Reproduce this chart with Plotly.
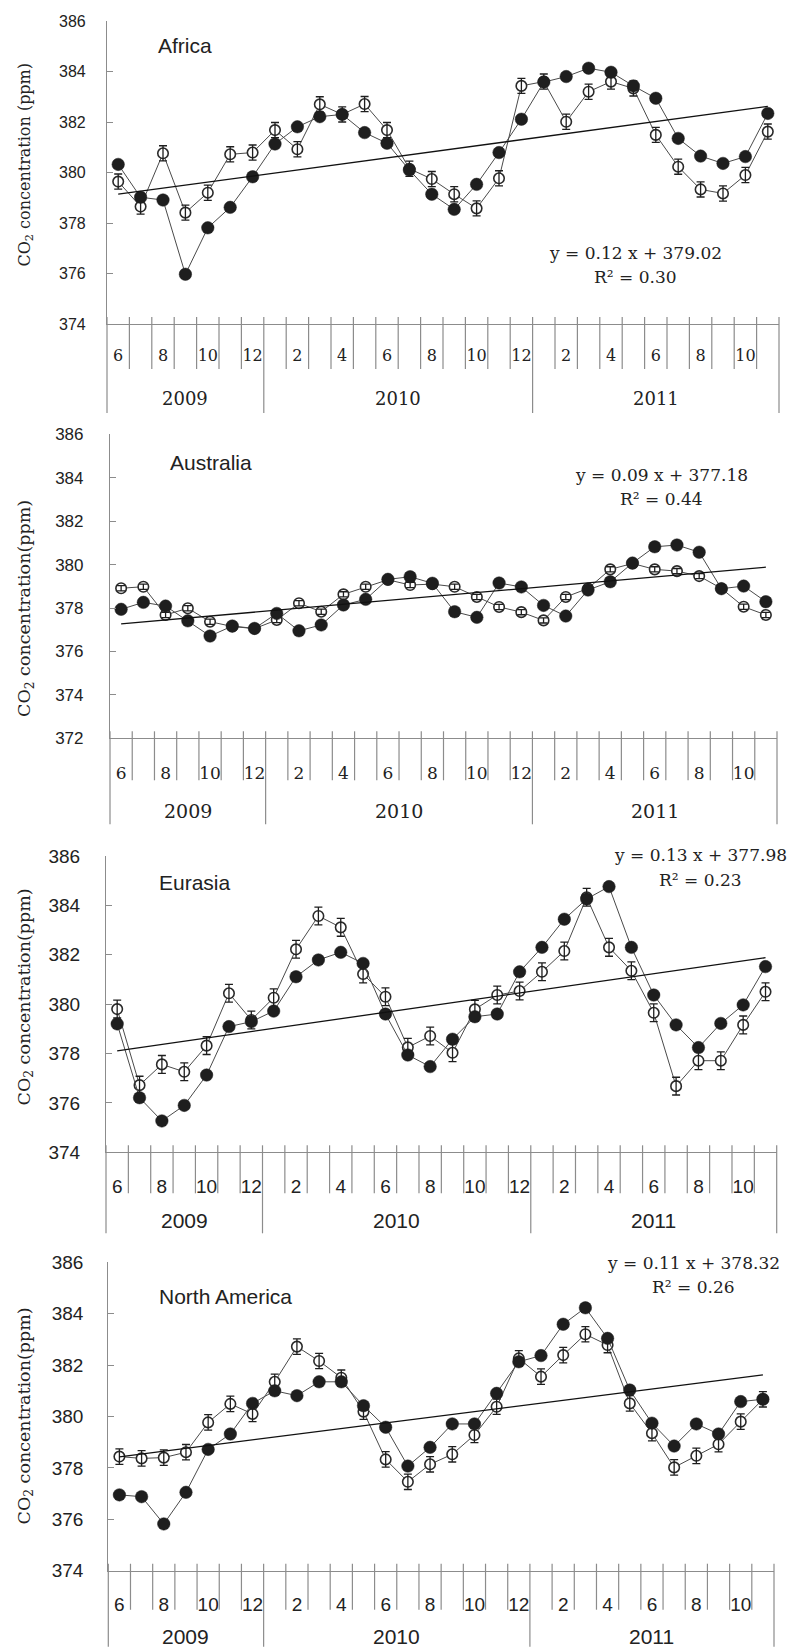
import plotly.graph_objects as go

# ---- time axis: June 2009 to November 2011 ----
months = [6, 7, 8, 9, 10, 11, 12,
          1, 2, 3, 4, 5, 6, 7, 8, 9, 10, 11, 12,
          1, 2, 3, 4, 5, 6, 7, 8, 9, 10, 11]
years = ["2009"] * 7 + ["2010"] * 12 + ["2011"] * 11
idx = list(range(1, len(months) + 1))
# only even months carry a label
label_pos = [i for i, m in zip(idx, months) if m % 2 == 0]
label_txt = [str(m) for m in months if m % 2 == 0]

# ---- CO2 concentration (ppm), solid and open series per region ----
africa_solid = [380.32, 379.02, 378.91, 375.97, 377.81, 378.62, 379.83, 381.13, 381.81, 382.21,
                382.30, 381.58, 381.16, 380.10, 379.14, 378.54, 379.53, 380.79, 382.11, 383.58,
                383.80, 384.13, 383.97, 383.43, 382.94, 381.35, 380.65, 380.36, 380.63, 382.34]
africa_open = [379.64, 378.65, 380.76, 378.41, 379.20, 380.72, 380.79, 381.68, 380.92, 382.70,
               382.30, 382.71, 381.68, 380.15, 379.74, 379.14, 378.58, 379.77, 383.43, 383.60,
               382.01, 383.20, 383.60, 383.33, 381.49, 380.23, 379.33, 379.17, 379.90, 381.62]
africa_err = [0.3] * 30

australia_solid = [377.94, 378.26, 378.09, 377.41, 376.71, 377.17, 377.06, 377.75, 376.95, 377.22,
                   378.14, 378.40, 379.32, 379.44, 379.14, 377.83, 377.57, 379.15, 378.97, 378.12,
                   377.63, 378.83, 379.21, 380.07, 380.82, 380.90, 380.57, 378.89, 379.01, 378.29]
australia_open = [378.91, 378.98, 377.68, 377.99, 377.37, 377.15, 377.05, 377.45, 378.22, 377.83,
                  378.63, 378.98, 379.30, 379.06, 379.10, 378.98, 378.51, 378.05, 377.81, 377.43,
                  378.51, 378.90, 379.78, 380.05, 379.78, 379.70, 379.47, 378.90, 378.06, 377.68]
australia_err = [0.12] * 30

eurasia_solid = [379.20, 376.21, 375.27, 375.90, 377.13, 379.09, 379.29, 379.72, 381.11, 381.79,
                 382.10, 381.65, 379.60, 377.94, 377.47, 378.58, 379.49, 379.60, 381.31, 382.30,
                 383.44, 384.26, 384.76, 382.30, 380.37, 379.16, 378.24, 379.22, 379.97, 381.52]
eurasia_open = [379.80, 376.72, 377.56, 377.26, 378.32, 380.44, 379.36, 380.26, 382.22, 383.57,
                383.11, 381.22, 380.30, 378.25, 378.71, 378.03, 379.79, 380.37, 380.53, 381.31,
                382.15, 384.33, 382.30, 381.35, 379.65, 376.68, 377.71, 377.71, 379.16, 380.50]
eurasia_err = [0.36] * 30

namerica_solid = [376.95, 376.88, 375.82, 377.05, 378.72, 379.32, 380.51, 381.00, 380.81, 381.35,
                  381.35, 380.42, 379.58, 378.07, 378.80, 379.71, 379.71, 380.90, 382.13, 382.37,
                  383.59, 384.23, 383.04, 381.03, 379.74, 378.85, 379.71, 379.32, 380.58, 380.67]
namerica_open = [378.44, 378.37, 378.40, 378.61, 379.77, 380.49, 380.10, 381.35, 382.72, 382.16,
                 381.51, 380.19, 378.33, 377.46, 378.14, 378.53, 379.28, 380.38, 382.26, 381.55,
                 382.39, 383.20, 382.78, 380.51, 379.35, 378.02, 378.47, 378.92, 379.80, 380.67]
namerica_err = [0.3] * 30

# ---- linear trends (y = slope * x + intercept) ----
region_names = ["Africa", "Australia", "Eurasia", "North America"]
trend_slope = [0.12, 0.09, 0.13, 0.11]
trend_intercept = [379.02, 377.18, 377.98, 378.32]
trend_r2 = [0.30, 0.44, 0.23, 0.26]
y_ranges = [(374, 386), (372, 386), (374, 386), (374, 386)]

solid_series = [africa_solid, australia_solid, eurasia_solid, namerica_solid]
open_series = [africa_open, australia_open, eurasia_open, namerica_open]
err_series = [africa_err, australia_err, eurasia_err, namerica_err]

W, H = 790, 1647
AXIS_GREY = "#8c8c8c"
SERIF = "DejaVu Serif"
SANS = "Liberation Sans, Arial, sans-serif"

# page layout of each panel (pixels) and typography
panels = [
    dict(left=107, right=779, top=21, bottom=324, tick_font=(SANS, 16), tick_pad=17,
         month_font=(SERIF, 16), month_pad=17, year_font=(SERIF, 18), year_off=74,
         tick_len=45, div_len=89, label_xy=(156, 45), eq_xy=(635, 253, 277),
         title_y=164.5, title_size=16, title_text="CO<sub>2</sub> concentration (ppm)"),
    dict(left=110, right=777, top=434.3, bottom=738.3, tick_font=(SANS, 17), tick_pad=22,
         month_font=(SERIF, 17), month_pad=19, year_font=(SERIF, 19), year_off=73,
         tick_len=42, div_len=86, label_xy=(168, 462), eq_xy=(661, 475, 499),
         title_y=609, title_size=17.5, title_text="CO<sub>2</sub> concentration(ppm)"),
    dict(left=106, right=776.7, top=856, bottom=1152.3, tick_font=(SANS, 19), tick_pad=21,
         month_font=(SANS, 19), month_pad=17, year_font=(SANS, 21), year_off=68,
         tick_len=41, div_len=81, label_xy=(157, 882), eq_xy=(700, 855, 880),
         title_y=997.5, title_size=17.5, title_text="CO<sub>2</sub> concentration(ppm)"),
    dict(left=108.3, right=774, top=1262.3, bottom=1570.7, tick_font=(SANS, 19), tick_pad=20,
         month_font=(SANS, 19), month_pad=16, year_font=(SANS, 21), year_off=66,
         tick_len=39, div_len=76, label_xy=(157, 1296), eq_xy=(693, 1263, 1287),
         title_y=1416.5, title_size=17.5, title_text="CO<sub>2</sub> concentration(ppm)"),
]

fig = go.Figure()
shapes, annotations = [], []
layout_axes = {}

year_groups = []
for yv in dict.fromkeys(years):
    members = [i for i, v in zip(idx, years) if v == yv]
    year_groups.append((yv, (members[0] + members[-1]) / 2))

for k, p in enumerate(panels):
    s = "" if k == 0 else str(k + 1)
    xa, ya = "x" + s, "y" + s

    # open series with white markers
    fig.add_trace(go.Scatter(
        x=idx, y=open_series[k], mode="lines+markers", xaxis=xa, yaxis=ya,
        line=dict(color="#4a4a4a", width=1),
        marker=dict(symbol="circle", size=10.5, color="white",
                    line=dict(color="#2a2a2a", width=1.6)),
        showlegend=False, hoverinfo="skip"))
    # error bars drawn over the open markers
    fig.add_trace(go.Scatter(
        x=idx, y=open_series[k], mode="markers", xaxis=xa, yaxis=ya,
        marker=dict(size=2, color="rgba(0,0,0,0)"),
        error_y=dict(type="data", array=err_series[k], symmetric=True,
                     color="#1e1e1e", thickness=1.3, width=4),
        showlegend=False, hoverinfo="skip"))
    # solid series
    fig.add_trace(go.Scatter(
        x=idx, y=solid_series[k], mode="lines+markers", xaxis=xa, yaxis=ya,
        line=dict(color="#4a4a4a", width=1),
        marker=dict(symbol="circle", size=12.5, color="#1e1e1e",
                    line=dict(color="#1e1e1e", width=0.5)),
        showlegend=False, hoverinfo="skip"))
    # linear trend from the fitted equation
    tx = [idx[0], idx[-1]]
    fig.add_trace(go.Scatter(
        x=tx, y=[trend_slope[k] * v + trend_intercept[k] for v in tx],
        mode="lines", xaxis=xa, yaxis=ya, line=dict(color="#111111", width=1.3),
        showlegend=False, hoverinfo="skip"))

    y0, y1 = y_ranges[k]
    layout_axes["xaxis" + s] = dict(
        domain=[p["left"] / W, p["right"] / W], anchor=ya, automargin=False,
        range=[0.5, len(idx) + 0.5], tickmode="array", tickvals=label_pos, ticktext=label_txt,
        ticks="", showline=True, linecolor=AXIS_GREY, linewidth=1.2,
        showgrid=False, zeroline=False, fixedrange=True,
        tickfont=dict(family=p["month_font"][0], size=p["month_font"][1], color="#222"),
        ticklabelstandoff=p["month_pad"])
    layout_axes["yaxis" + s] = dict(
        domain=[1 - p["bottom"] / H, 1 - p["top"] / H], anchor=xa, automargin=False,
        range=[y0, y1], tick0=y0, dtick=2, ticks="inside", ticklen=6,
        tickcolor=AXIS_GREY, tickwidth=1.2, showline=True, linecolor=AXIS_GREY,
        linewidth=1.2, showgrid=False, zeroline=False, fixedrange=True,
        tickfont=dict(family=p["tick_font"][0], size=p["tick_font"][1], color="#222"),
        ticklabelstandoff=p["tick_pad"])

    # month separators and year dividers below the axis
    for i in range(1, len(idx)):
        long_line = years[i] != years[i - 1]
        shapes.append(dict(
            type="line", xref=xa, yref=ya + " domain", x0=i + 0.5, x1=i + 0.5,
            ysizemode="pixel", yanchor=0, y0=7,
            y1=-(p["div_len"] if long_line else p["tick_len"]),
            line=dict(color=AXIS_GREY, width=1.2)))
    for edge in (0, 1):
        shapes.append(dict(
            type="line", xref=xa + " domain", yref=ya + " domain", x0=edge, x1=edge,
            ysizemode="pixel", yanchor=0, y0=7, y1=-p["div_len"],
            line=dict(color=AXIS_GREY, width=1.2)))

    # year labels
    for yv, xc in year_groups:
        annotations.append(dict(
            text=yv, xref=xa, yref=ya + " domain", x=xc, y=0, yshift=-p["year_off"],
            xanchor="center", yanchor="middle", showarrow=False,
            font=dict(family=p["year_font"][0], size=p["year_font"][1], color="#222")))

    # region name
    lx, ly = p["label_xy"]
    annotations.append(dict(
        text=region_names[k], xref="paper", yref="paper", x=lx / W, y=1 - ly / H,
        xanchor="left", yanchor="middle", showarrow=False,
        font=dict(family=SANS, size=21, color="#222")))

    # trend equation and R²
    ex, ey1, ey2 = p["eq_xy"]
    annotations.append(dict(
        text=f"y = {trend_slope[k]:.2f} x + {trend_intercept[k]:.2f}",
        xref="paper", yref="paper", x=ex / W, y=1 - ey1 / H,
        xanchor="center", yanchor="middle", showarrow=False,
        font=dict(family=SERIF, size=17, color="#222")))
    annotations.append(dict(
        text=f"R² = {trend_r2[k]:.2f}",
        xref="paper", yref="paper", x=ex / W, y=1 - ey2 / H,
        xanchor="center", yanchor="middle", showarrow=False,
        font=dict(family=SERIF, size=17, color="#222")))

    # y-axis title
    annotations.append(dict(
        text=p["title_text"], xref="paper", yref="paper", x=25 / W, y=1 - p["title_y"] / H,
        xanchor="center", yanchor="middle", textangle=-90, showarrow=False,
        font=dict(family=SERIF, size=p["title_size"], color="#222")))

fig.update_layout(
    width=W, height=H, margin=dict(l=0, r=0, t=0, b=0, autoexpand=False),
    paper_bgcolor="white", plot_bgcolor="white",
    shapes=shapes, annotations=annotations, showlegend=False,
    **layout_axes)

fig.write_html("out.html")
